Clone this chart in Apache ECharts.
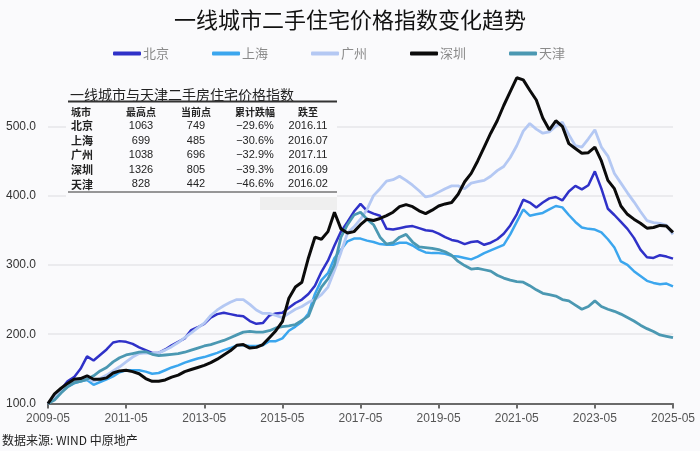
<!DOCTYPE html>
<html><head><meta charset="utf-8">
<script src="https://cdn.jsdelivr.net/npm/echarts/dist/echarts.min.js"></script>
<style>html,body{margin:0;padding:0;background:#fafafc;}#c{width:700px;height:451px;}</style>
</head><body><div id="c"></div>
<script>
// bimonthly categories 2009-05 .. 2025-05
const months = [];
for (let y = 2009, m = 5; y < 2025 || (y === 2025 && m <= 5);) {
  months.push(y + '-' + String(m).padStart(2, '0'));
  m += 2; if (m > 12) { m -= 12; y++; }
}
const seriesNames = ['北京', '上海', '广州', '深圳', '天津'];
const beijing = [100,110,120,132,138,150,168,162,170,178,188,190,189,186,181,177,173,173,178,184,189,194,206,210,215,224,229,231,229,227,226,219,215,216,227,230,231,238,245,250,258,270,290,306,328,348,362,377,388,378,374,371,352,351,353,355,356,353,350,349,345,340,336,334,330,333,334,329,332,337,345,357,373,394,390,383,390,396,398,393,406,414,409,415,435,410,381,372,362,352,339,322,311,310,314,312,309];
const shanghai = [100,108,117,124,129,132,134,127,131,135,139,145,148,148,148,146,143,144,148,152,155,159,162,165,167,170,173,177,180,184,184,183,183,184,190,190,194,205,211,218,230,258,278,288,310,322,334,338,338,335,333,330,329,329,332,332,328,322,318,317,317,316,313,312,310,308,312,317,321,325,329,344,362,380,371,373,375,380,385,383,372,362,354,352,351,347,337,325,305,300,291,284,277,274,272,273,269];
const guangzhou = [100,110,118,126,131,134,136,132,136,141,147,153,160,167,172,173,172,173,177,182,188,195,202,209,216,227,235,241,246,250,250,243,235,230,230,227,224,230,236,240,246,250,257,268,292,318,346,355,366,380,400,410,421,423,428,422,415,407,398,400,405,410,414,414,410,418,420,422,428,436,442,455,472,493,504,496,490,492,500,506,488,472,470,482,495,470,457,432,418,404,391,377,364,361,360,357,344];
const shenzhen = [100,114,122,129,135,136,140,135,135,137,144,147,148,146,143,136,132,132,134,138,141,146,149,152,155,159,164,170,176,184,185,180,181,185,195,205,218,252,268,275,310,340,337,348,376,352,346,348,358,366,364,367,371,376,384,387,384,378,374,379,385,388,390,402,420,432,450,470,490,508,530,550,570,567,552,538,512,495,508,500,475,468,461,462,470,450,422,410,385,373,366,360,353,354,357,356,347];
const tianjin = [100,105,115,124,130,132,135,140,147,152,160,166,170,172,174,175,171,169,170,171,172,174,177,180,183,185,188,191,195,199,203,204,203,203,205,209,211,212,214,220,226,250,268,280,300,340,358,372,376,366,358,340,330,332,340,344,333,326,325,324,322,319,314,305,299,294,295,293,291,285,281,278,276,275,270,264,259,257,255,250,248,242,236,240,248,240,236,233,229,224,219,213,208,204,199,197,195];

// table data
const tableTitle = '一线城市与天津二手房住宅价格指数';
const tableHeaders = ['城市', '最高点', '当前点', '累计跌幅', '跌至'];
const tableCities = ['北京', '上海', '广州', '深圳', '天津'];
const tablePeaks = ['1063', '699', '1038', '1326', '828'];
const tableCurrent = ['749', '485', '696', '805', '442'];
const tableDrop = ['−29.6%', '−30.6%', '−32.9%', '−39.3%', '−46.6%'];
const tableDate = ['2016.11', '2016.07', '2017.11', '2016.09', '2016.02'];

const colors = ['#2f31c8', '#3ba6ee', '#b4c8f3', '#0b0b0b', '#4b98b2'];
const widths = [2.5, 2.5, 2.8, 3, 2.8];
const dataAll = [beijing, shanghai, guangzhou, shenzhen, tianjin];
const CJK = '"Noto Sans CJK SC", sans-serif';

const graphics = [];
graphics.push({type:'rect', z:1, shape:{x:66, y:84, width:271, height:113}, style:{fill:'#fafafc'}});
graphics.push({type:'rect', z:1, shape:{x:260, y:197, width:77, height:13}, style:{fill:'#efefef'}});
graphics.push({type:'text', z:5, x:70, y:95, style:{text:tableTitle, font:'14px ' + CJK, fill:'#222', textVerticalAlign:'middle'}});
graphics.push({type:'line', z:5, shape:{x1:68, y1:101.5, x2:337, y2:101.5}, style:{stroke:'#333', lineWidth:2}});
graphics.push({type:'line', z:5, shape:{x1:68, y1:192, x2:337, y2:192}, style:{stroke:'#333', lineWidth:1.2}});
const colX = [71, 141, 196, 255, 308];
const colAlign = ['left', 'center', 'center', 'center', 'center'];
tableHeaders.forEach((h, i) => {
  graphics.push({type:'text', z:5, x:colX[i], y:112, style:{text:h, font:'bold 10px ' + CJK, fill:'#222', textAlign:colAlign[i], textVerticalAlign:'middle'}});
});
tableCities.forEach((c, r) => {
  const yy = 126 + r * 14.6;
  const cells = [c, tablePeaks[r], tableCurrent[r], tableDrop[r], tableDate[r]];
  cells.forEach((t, i) => {
    graphics.push({type:'text', z:5, x:colX[i], y:yy, style:{text:t, font:(i === 0 ? 'bold 11px ' + CJK : '11px "Liberation Sans", sans-serif'), fill:'#222', textAlign:colAlign[i], textVerticalAlign:'middle'}});
  });
});
graphics.push({type:'text', z:5, x:2, y:440, style:{text:'数据来源: WIND 中原地产', font:'12px ' + CJK, fill:'#222', textVerticalAlign:'middle'}});

const chart = echarts.init(document.getElementById('c'));
chart.setOption({
  backgroundColor: '#fafafc',
  animation: false,
  title: {
    text: '一线城市二手住宅价格指数变化趋势',
    left: 'center', top: 4,
    textStyle: {fontFamily: CJK, fontSize: 22, fontWeight: 'normal', color: '#111'}
  },
  legend: {
    data: seriesNames,
    left: 108, top: 42,
    itemWidth: 28, itemHeight: 4, itemGap: 43,
    icon: 'roundRect',
    textStyle: {fontFamily: CJK, fontSize: 13, color: '#8a8a8a', padding: [0, 0, 0, -3]}
  },
  grid: {left: 48, right: 27, top: 57, bottom: 47.5, containLabel: false},
  xAxis: {
    type: 'category', data: months, boundaryGap: false,
    axisLine: {lineStyle: {color: '#6a6a6a', width: 2}},
    axisTick: {show: true, interval: 11, length: 5, lineStyle: {color: '#6a6a6a', width: 2}},
    axisLabel: {interval: 11, color: '#555', fontSize: 12, fontFamily: '"Liberation Sans", sans-serif', margin: 9},
    splitLine: {show: false}
  },
  yAxis: {
    type: 'value', min: 100, max: 600, interval: 100,
    axisLine: {show: false}, axisTick: {show: false},
    axisLabel: {formatter: v => v.toFixed(1), showMaxLabel: false, color: '#333', fontSize: 12, fontFamily: '"Liberation Sans", sans-serif', margin: 12},
    splitLine: {lineStyle: {color: ['rgba(0,0,0,0)', '#e6e6ea', '#e6e6ea', '#e6e6ea', '#e6e6ea', 'rgba(0,0,0,0)'], width: 1.5}}
  },
  graphic: graphics,
  series: seriesNames.map((n, i) => ({
    name: n, type: 'line', data: dataAll[i], showSymbol: false, symbol: 'none',
    lineStyle: {color: colors[i], width: widths[i]}, itemStyle: {color: colors[i]},
    z: 2 + (i === 3 ? 1 : 0)
  }))
});
</script></body></html>
